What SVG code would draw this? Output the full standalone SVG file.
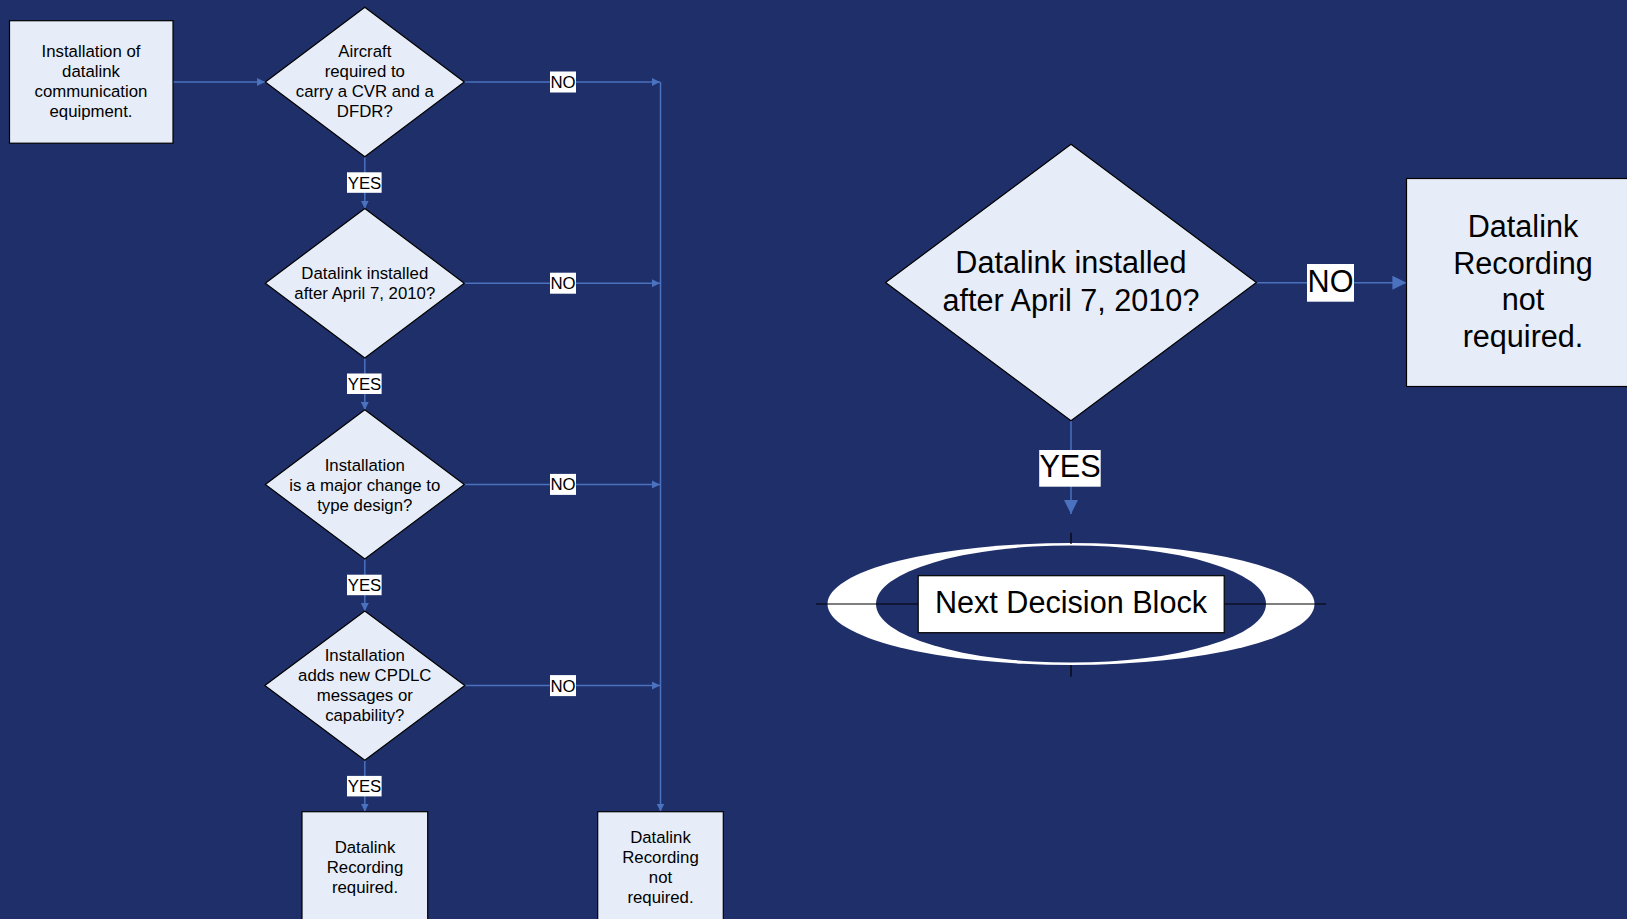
<svg xmlns="http://www.w3.org/2000/svg" width="1627" height="919" viewBox="0 0 1627 919">
<defs>
<style>
.node{fill:#e6edf8;stroke:#000;stroke-width:1.2}
.t{font-family:"Liberation Sans",Arial,sans-serif;font-size:16.8px;fill:#000;text-anchor:middle}
.tb{font-family:"Liberation Sans",Arial,sans-serif;font-size:30.6px;fill:#000;text-anchor:middle}
.conn{fill:none;stroke:#4a72bf;stroke-width:1.5}
.lbl{fill:#fff}
</style>
<marker id="ah" markerUnits="userSpaceOnUse" markerWidth="8" markerHeight="8" refX="8" refY="4" orient="auto"><path d="M0,0 L8,4 L0,8 z" fill="#4a72bf"/></marker>
<marker id="ahL" markerUnits="userSpaceOnUse" markerWidth="14" markerHeight="14" refX="14" refY="7" orient="auto"><path d="M0,0 L14,7 L0,14 z" fill="#4a72bf"/></marker>
</defs>
<rect x="0" y="0" width="1627" height="919" fill="#1f2f6a"/>

<g id="connectors">
<path class="conn" d="M173,82 L265,82" marker-end="url(#ah)"/>
<path class="conn" d="M464,82 L660,82" marker-end="url(#ah)"/>
<path class="conn" d="M464,283.2 L660,283.2" marker-end="url(#ah)"/>
<path class="conn" d="M464,484.4 L660,484.4" marker-end="url(#ah)"/>
<path class="conn" d="M464,685.6 L660,685.6" marker-end="url(#ah)"/>
<path class="conn" d="M660.5,82 L660.5,811.5" marker-end="url(#ah)"/>
<path class="conn" d="M364.8,156.7 L364.8,208.7" marker-end="url(#ah)"/>
<path class="conn" d="M364.8,357.9 L364.8,409.9" marker-end="url(#ah)"/>
<path class="conn" d="M364.8,559.1 L364.8,611.1" marker-end="url(#ah)"/>
<path class="conn" d="M364.8,760.3 L364.8,811.5" marker-end="url(#ah)"/>
<path class="conn" d="M1256.4,282.7 L1406.4,282.7" marker-end="url(#ahL)"/>
<path class="conn" d="M1071,420.8 L1071,514" marker-end="url(#ahL)"/>

<rect class="lbl" x="550" y="71.5" width="26" height="21"/><text class="t" x="563" y="88">NO</text>
<rect class="lbl" x="550" y="272.7" width="26" height="21"/><text class="t" x="563" y="289.2">NO</text>
<rect class="lbl" x="550" y="473.9" width="26" height="21"/><text class="t" x="563" y="490.4">NO</text>
<rect class="lbl" x="550" y="675.1" width="26" height="21"/><text class="t" x="563" y="691.6">NO</text>
<rect class="lbl" x="347" y="172.3" width="34.6" height="20.5"/><text class="t" x="364.5" y="188.5">YES</text>
<rect class="lbl" x="347" y="373.5" width="34.6" height="20.5"/><text class="t" x="364.5" y="389.7">YES</text>
<rect class="lbl" x="347" y="574.7" width="34.6" height="20.5"/><text class="t" x="364.5" y="590.9">YES</text>
<rect class="lbl" x="347" y="775.9" width="34.6" height="20.5"/><text class="t" x="364.5" y="792.1">YES</text>
<rect class="lbl" x="1307" y="264" width="47" height="37.7"/><text class="tb" x="1330.5" y="291.7">NO</text>
<rect class="lbl" x="1039.2" y="450" width="61.5" height="36.7"/><text class="tb" x="1070" y="476.7">YES</text>
</g>

<g id="start">
<rect class="node" x="9.5" y="20.7" width="163.5" height="122.5"/>
<text class="t" x="91" y="57">Installation of</text>
<text class="t" x="91" y="77">datalink</text>
<text class="t" x="91" y="97">communication</text>
<text class="t" x="91" y="117">equipment.</text>
</g>

<g id="d1">
<polygon class="node" points="364.8,7.3 464.3,82 364.8,156.7 265.3,82"/>
<text class="t" x="364.8" y="57">Aircraft</text>
<text class="t" x="364.8" y="77">required to</text>
<text class="t" x="364.8" y="97">carry a CVR and a</text>
<text class="t" x="364.8" y="117">DFDR?</text>
</g>

<g id="d2">
<polygon class="node" points="364.8,208.5 464.3,283.2 364.8,357.9 265.3,283.2"/>
<text class="t" x="364.8" y="278.7">Datalink installed</text>
<text class="t" x="364.8" y="298.7">after April 7, 2010?</text>
</g>

<g id="d3">
<polygon class="node" points="364.8,409.7 464.3,484.4 364.8,559.1 265.3,484.4"/>
<text class="t" x="364.8" y="470.5">Installation</text>
<text class="t" x="364.8" y="490.5">is a major change to</text>
<text class="t" x="364.8" y="510.5">type design?</text>
</g>

<g id="d4">
<polygon class="node" points="364.8,610.9 464.8,685.6 364.8,760.3 264.8,685.6"/>
<text class="t" x="364.8" y="660.7">Installation</text>
<text class="t" x="364.8" y="680.7">adds new CPDLC</text>
<text class="t" x="364.8" y="700.7">messages or</text>
<text class="t" x="364.8" y="720.7">capability?</text>
</g>

<g id="required">
<rect class="node" x="302" y="811.7" width="125.7" height="115"/>
<text class="t" x="365" y="853.3">Datalink</text>
<text class="t" x="365" y="873.3">Recording</text>
<text class="t" x="365" y="893.3">required.</text>
</g>

<g id="notrequired">
<rect class="node" x="597.7" y="811.7" width="125.6" height="115"/>
<text class="t" x="660.5" y="843.3">Datalink</text>
<text class="t" x="660.5" y="863.3">Recording</text>
<text class="t" x="660.5" y="883.3">not</text>
<text class="t" x="660.5" y="903.3">required.</text>
</g>

<g id="bigdiamond">
<polygon class="node" points="1071,144.2 1256.4,282.5 1071,420.8 885.6,282.5"/>
<text class="tb" x="1071" y="273.3">Datalink installed</text>
<text class="tb" x="1071" y="310.5">after April 7, 2010?</text>
</g>

<g id="bignotrequired">
<rect class="node" x="1406.5" y="178.5" width="240" height="208"/>
<text class="tb" x="1523" y="236.7">Datalink</text>
<text class="tb" x="1523" y="273.5">Recording</text>
<text class="tb" x="1523" y="310.3">not</text>
<text class="tb" x="1523" y="347.1">required.</text>
</g>

<g id="nextblock">
<ellipse cx="1071" cy="604" rx="243.5" ry="61" fill="#fff"/>
<ellipse cx="1071" cy="604" rx="195" ry="58.5" fill="#1f2f6a"/>
<line x1="816" y1="604" x2="1326" y2="604" stroke="#000" stroke-width="1.2"/>
<line x1="1071" y1="532.7" x2="1071" y2="544" stroke="#000" stroke-width="1.2"/>
<line x1="1071" y1="665" x2="1071" y2="676.7" stroke="#000" stroke-width="1.2"/>
<rect x="918.2" y="575.7" width="306" height="57" fill="#fff" stroke="#000" stroke-width="1.2"/>
<text class="tb" x="1071" y="613.3">Next Decision Block</text>
</g>
</svg>
